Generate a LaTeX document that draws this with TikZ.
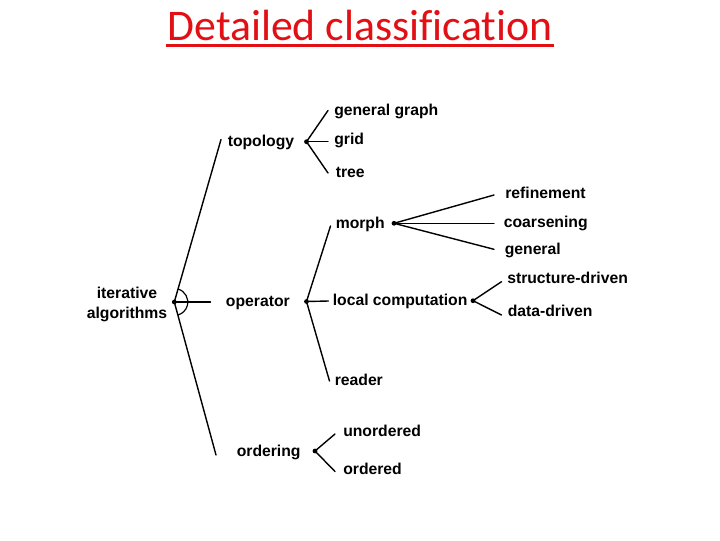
\documentclass[tikz,border=0pt]{standalone}
\usepackage{fontspec}
\setmainfont{Liberation Sans}
\newfontfamily\titlefont[Ligatures=NoCommon]{Carlito}
\definecolor{titlered}{RGB}{226,16,20}
\begin{document}
\begin{tikzpicture}[x=0.75pt,y=-0.75pt,
  lbl/.style={anchor=mid west,inner sep=0pt,yshift=-1.1pt,font=\fontsize{11.8pt}{13pt}\selectfont\bfseries},
  rootlbl/.style={anchor=mid,inner sep=0pt,yshift=-1.1pt,font=\fontsize{11.8pt}{13pt}\selectfont\bfseries},
  conn/.style={line width=1.05pt,line cap=round},
  dotpt/.style={fill=black,radius=2.4}]
\useasboundingbox (0,0) rectangle (720,540);
% title
\node[anchor=base,inner sep=0pt,text=titlered,font=\fontsize{32.8pt}{36pt}\titlefont] (title) at (360,40.5) {Detailed classification};
\draw[titlered,line width=1.8pt] (166,45.5) coordinate (ul1) -- (554,45.5) coordinate (ul2);

% root
\node[rootlbl] (it1) at (127,294) {iterative};
\node[rootlbl] (it2) at (127,314) {algorithms};
\coordinate (root) at (174.3,302);
\coordinate (rootU) at (221,139.5);
\coordinate (rootM) at (210.5,302);
\coordinate (rootD) at (216,455);

% level 1
\node[lbl] (topology) at (227.5,141.7) {topology};
\node[lbl] (operator) at (225.7,301.7) {operator};
\node[lbl] (ordering) at (236.5,451.5) {ordering};

\draw[conn] (root) -- (rootU);
\draw[conn] (root) -- (rootM);
\draw[conn] (root) -- (rootD);
\draw[line width=0.9pt] ([shift={(-73.9:13.5)}]root) arc[start angle=-73.9,end angle=73.9,radius=13.5];
\fill[dotpt] (root) circle;

% topology
\coordinate (topoDot) at (306.5,141.7);
\coordinate (topoA) at (328,110.5);
\coordinate (topoB) at (328,141.7);
\coordinate (topoC) at (328,173);
\draw[conn] (topoDot) -- (topoA);
\draw[conn] (topoDot) -- (topoB);
\draw[conn] (topoDot) -- (topoC);
\fill[dotpt] (topoDot) circle;
\node[lbl] (gg) at (334,111) {general graph};
\node[lbl] (grid) at (334,139.3) {grid};
\node[lbl] (tree) at (335.5,172.5) {tree};

% operator
\coordinate (opDot) at (306.5,301.5);
\coordinate (opA) at (330.5,226);
\coordinate (opB) at (328.5,301);
\coordinate (opC) at (329.5,381);
\draw[conn] (opDot) -- (opA);
\draw[conn] (opDot) -- (opB);
\draw[conn] (opDot) -- (opC);
\fill[dotpt] (opDot) circle;
\node[lbl] (morph) at (335.5,223.3) {morph};
\node[lbl] (local) at (332.5,300.7) {local computation};
\node[lbl] (reader) at (334.5,380) {reader};

% morph
\coordinate (mDot) at (394,223.3);
\coordinate (mA) at (494,195);
\coordinate (mB) at (494,223.3);
\coordinate (mC) at (494,249.3);
\draw[conn] (mDot) -- (mA);
\draw[conn] (mDot) -- (mB);
\draw[conn] (mDot) -- (mC);
\fill[dotpt] (mDot) circle;
\node[lbl] (refine) at (505,194) {refinement};
\node[lbl] (coarse) at (503.5,222.8) {coarsening};
\node[lbl] (general) at (504.5,250) {general};

% local computation
\coordinate (lDot) at (473,300.7);
\coordinate (lA) at (501.5,281.7);
\coordinate (lB) at (501.5,315);
\draw[conn] (lDot) -- (lA);
\draw[conn] (lDot) -- (lB);
\fill[dotpt] (lDot) circle;
\node[lbl] (sdriven) at (507,278.5) {structure-driven};
\node[lbl] (ddriven) at (507.5,311.3) {data-driven};

% ordering
\coordinate (oDot) at (315,451);
\coordinate (oA) at (335,434);
\coordinate (oB) at (335,471.5);
\draw[conn] (oDot) -- (oA);
\draw[conn] (oDot) -- (oB);
\fill[dotpt] (oDot) circle;
\node[lbl] (unord) at (343,431.5) {unordered};
\node[lbl] (ord) at (343,469.3) {ordered};
\end{tikzpicture}
\end{document}
